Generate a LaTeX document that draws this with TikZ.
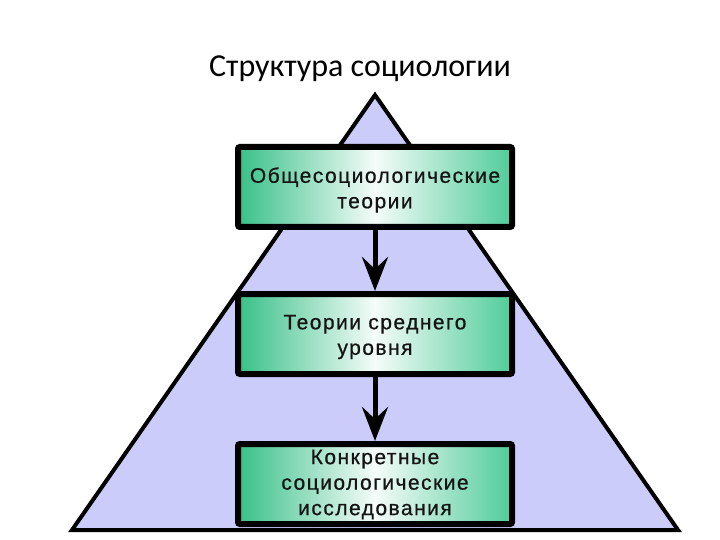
\documentclass[tikz,border=0pt]{standalone}
\usepackage{fontspec}
\setmainfont{Liberation Sans}
\newfontfamily\titlefont{Carlito}
\newfontfamily\boxfont[LetterSpace=7,FakeBold=0.6]{Liberation Sans}
\usetikzlibrary{arrows.meta}
\definecolor{tri}{HTML}{CCCCFA}
\definecolor{gleft}{HTML}{38C088}
\definecolor{gright}{HTML}{50CC9A}
\definecolor{txt}{HTML}{141414}
\tikzset{
  lvbox/.style={draw=black, line width=6pt, rounded corners=2pt,
    left color=gleft, right color=gright, middle color=white!95!gleft,
    minimum width=274pt, minimum height=80pt, inner sep=0pt},
  lvtext/.style={align=center, text=txt, inner sep=0pt,
    font=\boxfont\fontsize{21}{25.5}\selectfont},
  downarr/.style={draw=black, line width=5pt,
    -{Stealth[length=34pt, width=26pt, inset=12pt]}},
  trishape/.style={draw=black, line width=4pt, fill=tri}
}
\begin{document}
\begin{tikzpicture}[x=1pt, y=-1pt]
\useasboundingbox (0,0) rectangle (720,540);
\node[font=\titlefont\fontsize{32}{36}\selectfont, anchor=base] (title) at (360,77) {Структура социологии};
\coordinate (apex) at (375,95);
\coordinate (bl) at (72,530);
\coordinate (br) at (678,530);
\draw[trishape] (apex) -- (br) -- (bl) -- cycle;
\node[lvbox] (b1) at (375,187) {};
\node[lvbox] (b2) at (375,334) {};
\node[lvbox] (b3) at (375,484) {};
\node[lvtext] (t1) at (375,190) {Общесоциологические\\теории};
\node[lvtext] (t2) at (375,337) {Теории среднего\\уровня};
\node[lvtext] (t3) at (375,484.5) {Конкретные\\социологические\\исследования};
\draw[downarr] (b1.south) -- (b2.north);
\draw[downarr] (b2.south) -- (b3.north);
\end{tikzpicture}
\end{document}
